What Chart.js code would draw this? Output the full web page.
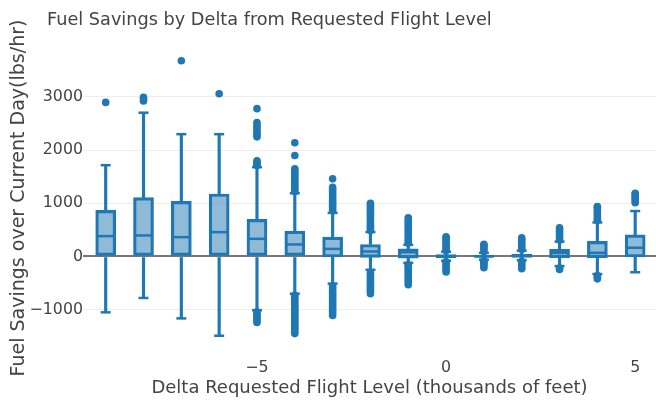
<!DOCTYPE html>
<html>
<head>
<meta charset="utf-8">
<script src="https://cdn.jsdelivr.net/npm/chart.js@4.4.1/dist/chart.umd.min.js"></script>
<style>
  html, body { margin: 0; padding: 0; background: #fff; }
  #wrap { width: 656px; height: 404px; }
</style>
</head>
<body>
<div id="wrap"><canvas id="c" width="656" height="404"></canvas></div>
<script>
const titleText = 'Fuel Savings by Delta from Requested Flight Level';
const xTitle = 'Delta Requested Flight Level (thousands of feet)';
const yTitle = 'Fuel Savings over Current Day(lbs/hr)';

// box stats per delta (thousands of feet)
const deltas       = [-9, -8, -7, -6, -5, -4, -3, -2, -1, 0, 1, 2, 3, 4, 5];
const lowerWhisker = [-1050, -780, -1164, -1490, -1010, -700, -510, -250, -120, -80, -60, -70, -180, -330, -296];
const q1           = [0, 0, 0, 0, 0, 0, -10, -15, -32, -25, -15, -15, -20, -20, -10];
const median       = [383, 396, 364, 458, 332, 226, 143, 94, 81, 5, 5, 15, 70, 70, 165];
const q3           = [868, 1106, 1038, 1175, 698, 477, 364, 226, 143, 35, 25, 45, 135, 283, 408];
const upperWhisker = [1717, 2704, 2300, 2300, 1680, 1190, 820, 460, 220, 90, 70, 110, 280, 640, 855];
const outliers = [
  [2898],
  [2925, 2960, 2995],
  [3680],
  [3060],
  [-1240, -1200, -1160, -1120, -1080, -1040, 1710, 1740, 1770, 1800, 2250, 2290, 2330, 2370, 2420, 2470, 2520, 2780],
  [-1450, -1410, -1370, -1330, -1290, -1250, -1210, -1170, -1130, -1090, -1050, -1010, -970, -930, -890, -850, -810, -770, -730,
   1220, 1260, 1300, 1340, 1380, 1420, 1460, 1500, 1540, 1580, 1620, 1650, 1900, 2140],
  [-1110, -1070, -1030, -990, -950, -910, -870, -830, -790, -750, -710, -670, -630, -590, -550,
   860, 900, 940, 980, 1020, 1060, 1100, 1140, 1180, 1220, 1260, 1300, 1460],
  [-700, -660, -620, -580, -540, -500, -460, -420, -380, -340, -300,
   490, 530, 570, 610, 650, 690, 730, 770, 810, 850, 890, 930, 970, 1000],
  [-530, -490, -450, -410, -370, -330, -290, -250, -210, -170, -150,
   250, 290, 330, 370, 410, 450, 490, 530, 570, 610, 650, 690, 730],
  [-290, -250, -210, -170, -130, -100, 110, 150, 190, 230, 270, 310, 350, 370],
  [-210, -170, -130, -100, -80, 90, 130, 170, 210, 230],
  [-230, -190, -150, -110, -90, 130, 170, 210, 250, 290, 330, 350],
  [-245, -215, 310, 350, 390, 430, 470, 510, 540],
  [-420, -390, -360, 680, 720, 760, 800, 840, 880, 920, 940],
  [1010, 1050, 1090, 1130, 1170, 1190]
];
const xTicks = [-5, 0, 5];
const yTicks = [-1000, 0, 1000, 2000, 3000];

const FONT = 'DejaVu Sans';
const TEXT = '#444';
const BLUE = '#1f77b4';
const FILL = 'rgba(31,119,180,0.5)';

const boxData  = deltas.map((d, i) => ({x: d, y: [q1[i], q3[i]]}));
const lowData  = deltas.map((d, i) => ({x: d, y: [lowerWhisker[i], q1[i]]}));
const highData = deltas.map((d, i) => ({x: d, y: [q3[i], upperWhisker[i]]}));
const medData  = deltas.map((d, i) => ({x: d, y: median[i]}));
const capData  = deltas.flatMap((d, i) => [{x: d, y: lowerWhisker[i]}, {x: d, y: upperWhisker[i]}]);
const outData  = deltas.flatMap((d, i) => outliers[i].map(v => ({x: d, y: v})));

const minus = v => String(v).replace('-', '\u2212');

// plotly-style title sits left of centre, so draw it ourselves
const titlePlugin = {
  id: 'plotTitle',
  afterDraw(chart) {
    const ctx = chart.ctx;
    ctx.save();
    ctx.font = '17.7px "' + FONT + '"';
    ctx.fillStyle = TEXT;
    ctx.textBaseline = 'alphabetic';
    ctx.textAlign = 'left';
    ctx.fillText(titleText, 47, 25);
    ctx.restore();
  }
};

// no extra scale padding for edge labels, keep plot area fixed
const noPad = s => { s.paddingLeft = 0; s.paddingRight = 0; s.paddingTop = 0; s.paddingBottom = 0; };

new Chart(document.getElementById('c'), {
  type: 'scatter',
  data: {
    datasets: [
      {type: 'bar', data: lowData, backgroundColor: BLUE, barThickness: 2.5, grouped: false, order: 5},
      {type: 'bar', data: highData, backgroundColor: BLUE, barThickness: 2.5, grouped: false, order: 5},
      {type: 'bar', data: boxData, backgroundColor: FILL, borderColor: BLUE, borderWidth: 2.5,
       borderSkipped: false, barThickness: 20, grouped: false, order: 4},
      {type: 'scatter', data: capData, pointStyle: 'line', pointRadius: 5, borderColor: BLUE, borderWidth: 2.5, order: 3},
      {type: 'scatter', data: medData, pointStyle: 'line', pointRadius: 8.5, borderColor: BLUE, borderWidth: 2.5, order: 2},
      {type: 'scatter', data: outData, pointStyle: 'circle', pointRadius: 3.8, backgroundColor: BLUE,
       borderWidth: 0, order: 1}
    ]
  },
  options: {
    responsive: false,
    animation: false,
    layout: {autoPadding: false, padding: {top: 50, right: 0, bottom: 0, left: 0}},
    plugins: {legend: {display: false}, tooltip: {enabled: false}},
    scales: {
      x: {
        type: 'linear',
        min: -9.6, max: 5.55,
        offset: false,
        afterBuildTicks: s => { s.ticks = xTicks.map(v => ({value: v})); },
        afterFit: s => { s.height = 58; noPad(s); },
        grid: {display: false},
        border: {display: false},
        ticks: {color: TEXT, font: {family: FONT, size: 15.8}, padding: 4, callback: minus, maxRotation: 0},
        title: {display: true, text: xTitle, color: TEXT, font: {family: FONT, size: 18}, padding: {top: 0, bottom: 5}}
      },
      y: {
        type: 'linear',
        min: -1683, max: 3883,
        afterBuildTicks: s => { s.ticks = yTicks.map(v => ({value: v})); },
        afterFit: s => { s.width = 83; noPad(s); },
        grid: {
          color: c => (c.tick && c.tick.value === 0) ? '#777777' : '#eeeeee',
          lineWidth: c => (c.tick && c.tick.value === 0) ? 2 : 1,
          drawTicks: false
        },
        border: {display: false},
        ticks: {color: TEXT, font: {family: FONT, size: 15.8}, padding: 0, callback: minus},
        title: {display: true, text: yTitle, color: TEXT, font: {family: FONT, size: 19}, padding: {top: 8, bottom: 0}}
      }
    }
  },
  plugins: [titlePlugin]
});
</script>
</body>
</html>
